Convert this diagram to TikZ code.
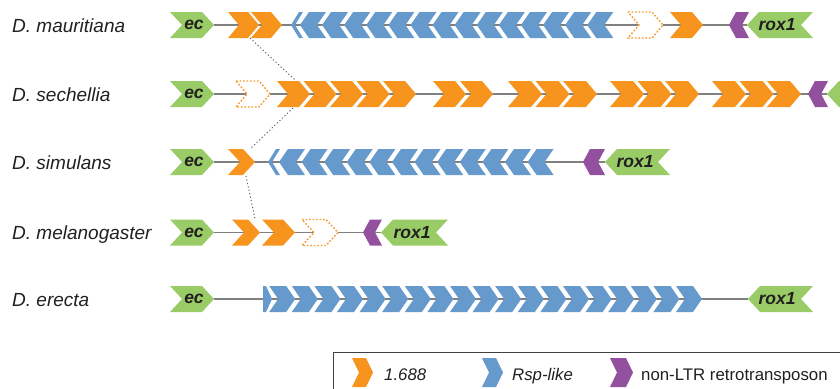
\documentclass[tikz,border=0pt]{standalone}
\usepackage{fontspec}
\setmainfont{Liberation Sans}
\definecolor{cor}{HTML}{F7941D}
\definecolor{cbl}{HTML}{6699CC}
\definecolor{cpu}{HTML}{93509E}
\definecolor{cgr}{HTML}{99CC66}
\definecolor{cln}{HTML}{808080}
\definecolor{ctx}{HTML}{231F20}
% right-pointing chevron: style, left x, centre y, width, point depth, half height
\newcommand\chR[6]{\path[#1] (#2,#3-#6) -- (#2+#4-#5,#3-#6) -- (#2+#4,#3) -- (#2+#4-#5,#3+#6) -- (#2,#3+#6) -- (#2+#5,#3) -- cycle;}
% left-pointing chevron: style, tip x, centre y, width, point depth, half height
\newcommand\chL[6]{\path[#1] (#2,#3) -- (#2+#5,#3-#6) -- (#2+#4,#3-#6) -- (#2+#4-#5,#3) -- (#2+#4,#3+#6) -- (#2+#5,#3+#6) -- cycle;}
\tikzset{
  orange/.style={fill=cor},
  blue/.style={fill=cbl},
  purple/.style={fill=cpu},
  green/.style={fill=cgr},
  dotch/.style={fill=white, draw=cor, line width=1.4pt, dash pattern=on 1.6pt off 1.9pt},
  backbone/.style={draw=cln, line width=1.6pt},
  link/.style={draw=black!65, line width=0.9pt, dash pattern=on 1.2pt off 2.3pt},
  lbl/.style={font=\fontsize{19}{22}\selectfont\itshape, anchor=base west, inner sep=0pt, text=ctx},
  tag/.style={font=\fontsize{17.5}{20}\selectfont\bfseries\itshape, inner sep=0pt, text=ctx},
  leg/.style={font=\fontsize{16.8}{20}\selectfont, anchor=base west, inner sep=0pt, text=ctx},
}
\begin{document}
\begin{tikzpicture}[x=1pt,y=-1pt]
\useasboundingbox (0,0) rectangle (840,388);
\clip (0,0) rectangle (840,388);

% ---------- labels ----------
\node[lbl] (l1) at (12,32) {D. mauritiana};
\node[lbl] (l2) at (12,101) {D. sechellia};
\node[lbl] (l3) at (12,169) {D. simulans};
\node[lbl] (l4) at (12,239.5) {D. melanogaster};
\node[lbl] (l5) at (12,306) {D. erecta};

% ---------- row 1 : mauritiana ----------
\coordinate (e1) at (214,25);
\coordinate (x1) at (747,25);
\draw[backbone] (e1) -- (x1);
\chR{green}{170}{25}{44}{12}{13}
\node[tag] (ec1) at (194,25) {ec};
\chR{orange}{228}{25}{31}{11}{13}
\chR{orange}{251}{25}{31}{11}{13}
\path[blue] (291,25) -- (299,12) -- (303,12) -- (295,25) -- (303,38) -- (299,38) -- cycle;
\foreach \k in {0,...,13} {\chL{blue}{300+22.1*\k}{25}{26}{9}{13}}
\chR{dotch}{628}{25}{35}{11}{13}
\chR{orange}{670}{25}{33}{11}{13}
\chL{purple}{729}{25}{20}{7}{13}
\chL{green}{747}{25}{66}{12}{13}
\node[tag] (rox1a) at (777,25) {rox1};

% ---------- row 2 : sechellia ----------
\coordinate (e2) at (214,94);
\coordinate (x2) at (827,94);
\draw[backbone] (e2) -- (x2);
\chR{green}{170}{94}{44}{12}{13}
\node[tag] (ec2) at (194,94) {ec};
\chR{dotch}{236}{94}{34}{11}{13}
\foreach \x in {277,303.5,330,356.5,383,433,460} {\chR{orange}{\x}{94}{33}{11}{13}}
\foreach \x in {508,535.5,563,610,637.5,665,712,739.5,767} {\chR{orange}{\x}{94}{34}{11}{13}}
\chL{purple}{808}{94}{20}{7}{13}
\chL{green}{827}{94}{66}{12}{13}

% ---------- row 3 : simulans ----------
\coordinate (e3) at (214,162);
\coordinate (x3) at (605,162);
\draw[backbone] (e3) -- (x3);
\chR{green}{170}{162}{44}{12}{13}
\node[tag] (ec3) at (194,162) {ec};
\chR{orange}{228}{162}{27}{12}{13}
\path[blue] (268,162) -- (276,149) -- (280,149) -- (272,162) -- (280,175) -- (276,175) -- cycle;
\foreach \k in {0,...,11} {\chL{blue}{279+22.6*\k}{162}{26}{9}{13}}
\chL{purple}{583}{162}{22}{7}{13}
\chL{green}{605}{162}{65}{12}{13}
\node[tag] (rox1c) at (635,162) {rox1};

% ---------- row 4 : melanogaster ----------
\coordinate (e4) at (214,232.5);
\coordinate (x4) at (381,232.5);
\draw[backbone] (e4) -- (x4);
\chR{green}{170}{232.5}{44}{12}{13}
\node[tag] (ec4) at (194,232.5) {ec};
\chR{orange}{232}{232.5}{28}{12}{13}
\chR{orange}{262}{232.5}{33}{12}{13}
\chR{dotch}{302}{232.5}{36}{12}{13}
\chL{purple}{363}{232.5}{19}{7}{13}
\chL{green}{381}{232.5}{67}{12}{13}
\node[tag] (rox1d) at (412,232.5) {rox1};

% ---------- row 5 : erecta ----------
\coordinate (e5) at (214,299);
\coordinate (x5) at (748,299);
\draw[backbone] (e5) -- (x5);
\chR{green}{170}{299}{44}{12}{13}
\node[tag] (ec5) at (194,299) {ec};
\path[blue] (263,286) -- (266,286) -- (272,299) -- (266,312) -- (263,312) -- cycle;
\foreach \k in {0,...,18} {\chR{blue}{269.2+22.6*\k}{299}{26}{9}{13}}
\chL{green}{748}{299}{65}{12}{13}
\node[tag] (rox1e) at (777,299) {rox1};

% ---------- dotted links between 1.688 copies ----------
\coordinate (a1) at (250,38);
\coordinate (a2) at (295,80);
\coordinate (b1) at (293,108);
\coordinate (b2) at (250,149);
\coordinate (c1) at (246,176);
\coordinate (c2) at (255,219);
\draw[link] (a1) -- (a2);
\draw[link] (b1) -- (b2);
\draw[link] (c1) -- (c2);

% ---------- legend ----------
\draw[draw=black!75, line width=0.8pt] (333,352.5) rectangle (860,400);
\chR{orange}{352}{372.5}{21}{7}{14.5}
\node[leg, font=\fontsize{16.8}{20}\selectfont\itshape] (t1) at (384,380) {1.688};
\chR{blue}{482}{372.5}{21}{7}{14.5}
\node[leg, font=\fontsize{16.8}{20}\selectfont\itshape] (t2) at (512,380) {Rsp-like};
\chR{purple}{610}{372.5}{23}{7}{14.5}
\node[leg] (t3) at (641,380) {non-LTR retrotransposon};
\end{tikzpicture}
\end{document}
